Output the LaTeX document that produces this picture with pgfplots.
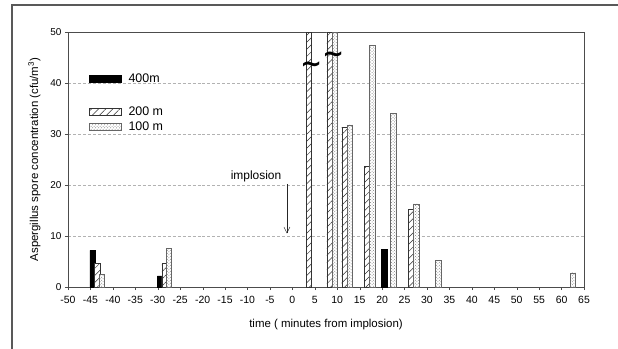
\documentclass[border=0pt]{standalone}
\usepackage{fontspec}
\setmainfont{Liberation Sans}
\newfontfamily\dejavu{DejaVu Sans}
\usepackage{pgfplots}
\pgfplotsset{compat=1.18}
\usetikzlibrary{patterns,patterns.meta,arrows.meta}
\pgfplotsset{
  mybar/.style={ybar, bar width=1.2, bar shift=0pt,
    legend image code/.code={\draw[##1] (0bp,-3.5bp) rectangle (32bp,3.5bp);}},
}
\begin{document}
\begin{tikzpicture}
\useasboundingbox (-68bp,-62bp) rectangle (550bp,287bp);
\draw[line width=1.5bp, gray!70!black] (-56bp,-62bp) -- (-56bp,282bp) -- (550bp,282bp);
\begin{axis}[
  at={(0,0)}, anchor=south west,
  width=516bp, height=255bp, scale only axis,
  xmin=-50, xmax=65, ymin=0, ymax=50,
  xtick={-50,-45,...,65}, ytick={0,10,...,50},
  tick align=outside, tick pos=left,
  major tick length=3bp,
  ymajorgrids, grid style={densely dashed, gray!60},
  axis line style={gray!60!black},
  tick style={gray!60!black},
  /pgf/number format/assume math mode=true,
  ticklabel style={font=\fontsize{10}{12}\selectfont},
  xticklabel style={yshift=-3bp, font=\fontsize{10.5}{12}\selectfont},
  xlabel={time ( minutes from implosion)},
  ylabel={Aspergillus spore concentration (cfu/m\textsuperscript{3})},
  label style={font=\fontsize{11.5}{13}\selectfont},
  xlabel style={yshift=-8bp},
  ylabel style={yshift=3bp},
  legend style={at={(axis cs:-46,42.6)}, anchor=north west, draw=none, fill=none,
    font=\fontsize{12.5}{14}\selectfont, row sep=1bp, column sep=5bp},
  legend cell align=left,
  clip=false,
]
\addplot[mybar, draw=black, fill=black] coordinates {(-44.5,7.2) (-29.5,2.2) (20.5,7.4)};
\addlegendentry{400m}
\addlegendimage{empty legend}
\addlegendentry{\rule[-4bp]{0pt}{15bp}}
\addplot[mybar, draw=black!80, fill=white, postaction={pattern={Lines[angle=45,distance=5bp,line width=0.5bp]}, pattern color=black!80}]
  coordinates {(-43.5,4.7) (-28.5,4.7) (3.7,50) (8.3,50) (11.6,31.3) (16.6,23.6) (26.5,15.2)};
\addlegendentry{200 m}
\addplot[mybar, draw=gray!80!black, fill=white, postaction={pattern=crosshatch dots, pattern color=gray}]
  coordinates {(-42.5,2.5) (-27.5,7.6) (9.5,50) (12.8,31.8) (17.8,47.5) (22.5,34.1) (27.6,16.3) (32.5,5.3) (62.5,2.8)};
\addlegendentry{100 m}
\node[font=\dejavu\bfseries\fontsize{26}{26}\selectfont, inner sep=0pt] at (axis cs:4.2,43.1) {\textasciitilde};
\node[font=\dejavu\bfseries\fontsize{26}{26}\selectfont, inner sep=0pt] at (axis cs:9.1,45.1) {\textasciitilde};
\node[font=\fontsize{12}{14}\selectfont] at (axis cs:-8.1,21.6) {implosion};
\draw[-{Straight Barb[length=6bp,width=6bp]}, gray!30!black] (axis cs:-1.2,20.2) -- (axis cs:-1.2,10.5);
\end{axis}
\end{tikzpicture}
\end{document}
